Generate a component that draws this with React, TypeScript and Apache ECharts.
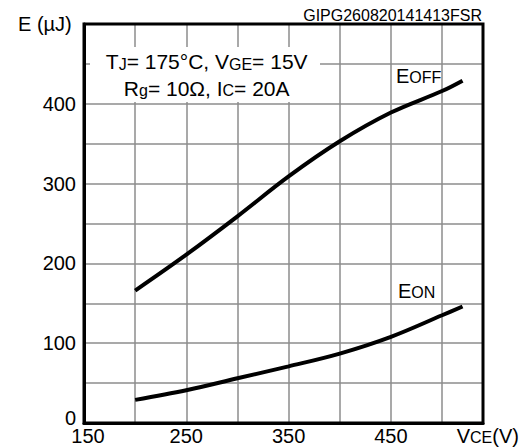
import React, { useEffect, useRef } from 'react';
import * as echarts from 'echarts';

const vce = [200, 250, 300, 350, 400, 450, 500, 520];
const eoff = [166, 211, 259, 309, 353, 389, 416, 429];
const eon = [29, 41, 56, 71, 87, 108, 135, 146];
const xTickLabels = [150, 250, 350, 450];
const yTickLabels = [0, 100, 200, 300, 400];

const FONT = 'Liberation Sans, Arial, Helvetica, sans-serif';
const GRID_COLOR = '#8c8c8c';

export default function App() {
  const ref = useRef<HTMLDivElement>(null);
  useEffect(() => {
    document.body.style.margin = '0';
    if (!ref.current) return;
    const chart = echarts.init(ref.current, null, { renderer: 'svg' });
    const main = { fontSize: 20, fontFamily: FONT, fill: '#000', verticalAlign: 'bottom' };
    const sub = { fontSize: 16, fontFamily: FONT, fill: '#000', verticalAlign: 'bottom' };
    const boxMain = { ...main, fontSize: 21 };
    const boxSub = { ...sub, fontSize: 16 };
    const option: any = {
      animation: false,
      backgroundColor: '#ffffff',
      textStyle: { fontFamily: FONT },
      grid: { left: 84, right: 46, top: 24, bottom: 24, show: false },
      xAxis: {
        type: 'value', min: 150, max: 540, interval: 50,
        axisLine: { show: true, lineStyle: { color: '#000', width: 3 } },
        axisTick: { show: false },
        axisLabel: {
          margin: 3, color: '#000', fontSize: 20, fontFamily: FONT,
          showMaxLabel: false,
          formatter: (v: number) => {
            if (!xTickLabels.includes(v)) return '';
            return v === 150 ? '{f|' + v + '}' : String(v);
          },
          rich: { f: { fontSize: 20, fontFamily: FONT, color: '#000', padding: [0, 0, 0, 8] } },
        },
        splitLine: { show: true, lineStyle: { color: GRID_COLOR, width: 1.5, opacity: 1 } },
      },
      yAxis: {
        type: 'value', min: 0, max: 500, interval: 50,
        axisLine: { show: true, lineStyle: { color: '#000', width: 3 } },
        axisTick: { show: false },
        axisLabel: {
          margin: 8, color: '#000', fontSize: 20, fontFamily: FONT,
          formatter: (v: number) => {
            if (!yTickLabels.includes(v)) return '';
            return v === 0 ? '{z|0}' : String(v);
          },
          rich: { z: { fontSize: 20, fontFamily: FONT, color: '#000', padding: [0, 0, 11, 0] } },
        },
        splitLine: { show: true, lineStyle: { color: GRID_COLOR, width: 1.5, opacity: 1 } },
      },
      series: [
        {
          name: 'EOFF', type: 'line', z: 3, symbol: 'none', smooth: 0.35,
          lineStyle: { color: '#000', width: 4 },
          data: vce.map((x, i) => [x, eoff[i]]),
        },
        {
          name: 'EON', type: 'line', z: 3, symbol: 'none', smooth: 0.35,
          lineStyle: { color: '#000', width: 4 },
          data: vce.map((x, i) => [x, eon[i]]),
        },
      ],
      graphic: [
        { type: 'rect', z: 10, shape: { x: 90, y: 47, width: 230, height: 55 }, style: { fill: '#fff' } },
        { type: 'rect', z: 12, shape: { x: 84, y: 24, width: 399, height: 399 }, style: { fill: 'none', stroke: '#000', lineWidth: 3 } },
        {
          type: 'text', z: 11, x: 206.7, y: 61.7,
          style: {
            text: '{a|T}{b|J}{a|= 175°C, V}{b|GE}{a|= 15V}',
            rich: { a: boxMain, b: boxSub }, align: 'center', verticalAlign: 'middle',
          },
        },
        {
          type: 'text', z: 11, x: 206.7, y: 88,
          style: {
            text: '{a|R}{b|g}{a|= 10Ω, I}{b|C}{a|= 20A}',
            rich: { a: boxMain, b: boxSub }, align: 'center', verticalAlign: 'middle',
          },
        },
        {
          type: 'text', z: 11, x: 396, y: 75.5,
          style: { text: '{a|E}{b|OFF}', rich: { a: main, b: sub }, align: 'left', verticalAlign: 'middle' },
        },
        {
          type: 'text', z: 11, x: 398, y: 290.5,
          style: { text: '{a|E}{b|ON}', rich: { a: main, b: sub }, align: 'left', verticalAlign: 'middle' },
        },
        {
          type: 'text', z: 11, x: 456.7, y: 435.8,
          style: { text: '{a|V}{b|CE}{a|(V)}', rich: { a: main, b: sub }, align: 'left', verticalAlign: 'middle' },
        },
        {
          type: 'text', z: 11, x: 18, y: 23.8,
          style: { text: 'E (µJ)', fontSize: 20, fontFamily: FONT, fill: '#000', align: 'left', verticalAlign: 'middle' },
        },
        {
          type: 'text', z: 11, x: 482, y: 15.2,
          style: { text: 'GIPG260820141413FSR', fontSize: 16, fontFamily: FONT, fill: '#000', align: 'right', verticalAlign: 'middle' },
        },
      ],
    };
    chart.setOption(option);
    return () => chart.dispose();
  }, []);
  return <div ref={ref} style={{ width: 529, height: 447 }} />;
}
